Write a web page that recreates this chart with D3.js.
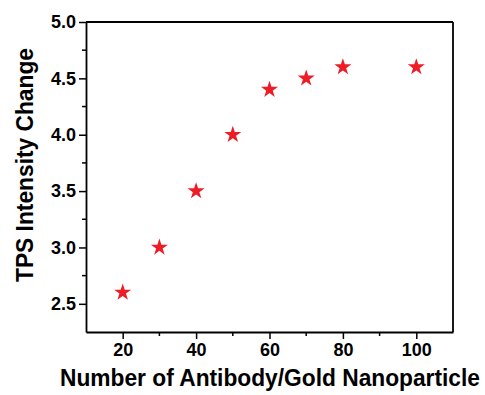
<!DOCTYPE html>
<html><head><meta charset="utf-8">
<script src="https://cdn.jsdelivr.net/npm/d3@7"></script>
<style>body{margin:0;background:#fff;} text{font-family:"Liberation Sans",Arial,sans-serif;font-weight:bold;}</style>
</head><body><svg id="c" width="485" height="395"></svg>
<script>
const xValues = [20, 30, 40, 50, 60, 70, 80, 100];
const yValues = [2.6, 3.0, 3.5, 4.0, 4.4, 4.5, 4.6, 4.6];
const xTicks = [20, 40, 60, 80, 100];
const yTicks = [2.5, 3.0, 3.5, 4.0, 4.5, 5.0];
const xLabel = "Number of Antibody/Gold Nanoparticle";
const yLabel = "TPS Intensity Change";

const svg = d3.select("#c");
const L = 86, R = 453, T = 22, B = 332;
const x = d3.scaleLinear().domain([10, 110]).range([L, R]);
const y = d3.scaleLinear().domain([2.25, 5.0]).range([B, T]);

const g = svg.append("g");
// minor ticks
g.selectAll(".mx").data(d3.range(10, 111, 10).filter(v => !xTicks.includes(v) && v > 10 && v < 110))
  .join("line").attr("x1", d => x(d)).attr("x2", d => x(d)).attr("y1", B).attr("y2", B + 4)
  .attr("stroke", "#000").attr("stroke-width", 1.5);
g.selectAll(".my").data(d3.range(2.25, 5.0, 0.25).filter(v => !yTicks.some(t => Math.abs(t - v) < 1e-6) && v > 2.26))
  .join("line").attr("x1", L - 4).attr("x2", L).attr("y1", d => y(d)).attr("y2", d => y(d))
  .attr("stroke", "#000").attr("stroke-width", 1.5);

const xAxis = svg.append("g").attr("transform", `translate(0,${B})`)
  .call(d3.axisBottom(x).tickValues(xTicks).tickSize(7).tickSizeOuter(0).tickPadding(4));
const yAxis = svg.append("g").attr("transform", `translate(${L},0)`)
  .call(d3.axisLeft(y).tickValues(yTicks).tickFormat(d3.format(".1f")).tickSize(7).tickSizeOuter(0).tickPadding(3));
[xAxis, yAxis].forEach(a => {
  a.select(".domain").attr("stroke-width", 1.8);
  a.selectAll(".tick line").attr("stroke-width", 1.5);
  a.selectAll("text").attr("font-size", 18).attr("font-family", '"Liberation Sans",Arial,sans-serif').attr("font-weight", "bold").attr("fill", "#000");
});
// top and right frame
svg.append("line").attr("x1", L).attr("x2", R).attr("y1", T).attr("y2", T).attr("stroke", "#000").attr("stroke-width", 1.8);
svg.append("line").attr("x1", R).attr("x2", R).attr("y1", T).attr("y2", B).attr("stroke", "#000").attr("stroke-width", 1.8);

svg.append("g").selectAll("path").data(xValues.map((v, i) => [v, yValues[i]]))
  .join("path")
  .attr("d", d3.symbol().type(d3.symbolStar).size(90))
  .attr("transform", d => `translate(${x(d[0])},${y(d[1])})`)
  .attr("fill", "#ee1c25");

svg.append("text").attr("x", 270).attr("y", 386).attr("text-anchor", "middle")
  .attr("font-size", 23).attr("textLength", 420).attr("lengthAdjust", "spacingAndGlyphs").text(xLabel);
svg.append("text").attr("transform", "translate(33,165) rotate(-90)").attr("text-anchor", "middle")
  .attr("font-size", 24).attr("textLength", 234).attr("lengthAdjust", "spacingAndGlyphs").text(yLabel);
</script></body></html>
